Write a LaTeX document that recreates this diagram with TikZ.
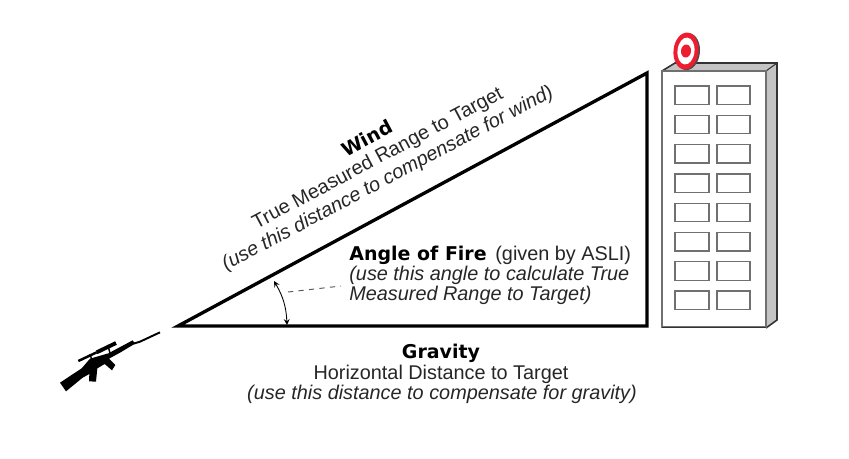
\documentclass[tikz,border=0pt]{standalone}
\usepackage{fontspec}
\setmainfont{Liberation Sans}
\newfontfamily\headfont{DejaVu Sans}
\usetikzlibrary{positioning}
\usepackage{xcolor}
\definecolor{targetred}{RGB}{237,28,46}
\definecolor{sidegray}{RGB}{196,196,196}
\definecolor{wallgray}{RGB}{112,112,112}
\tikzset{
  labeltext/.style={font=\fontsize{11.3pt}{13pt}\selectfont, align=center, inner sep=0pt, text=black!85},
  headtext/.style={font=\headfont\fontsize{10.8pt}{13pt}\selectfont\bfseries, inner sep=0pt},
  windowbox/.style={draw=wallgray, line width=0.7pt, fill=white},
  wallline/.style={draw=wallgray, line width=1.6pt, line join=miter}
}
\begin{document}
\begin{tikzpicture}[x=0.02cm, y=-0.02cm]
\useasboundingbox (0,0) rectangle (849,458);

%triangle
\coordinate (apex) at (178,326);
\coordinate (topright) at (647,73);
\coordinate (botright) at (647,326);
\draw[black, line width=1.9pt, line join=miter] (apex)--(topright)--(botright)--cycle;

%angle marks
\coordinate (arcup) at (274,281);
\coordinate (arcdown) at (287,325);
\coordinate (leadstart) at (288,292);
\coordinate (leadend) at (341,286);
\draw[<->, >=stealth, line width=0.5pt] (arcup) to[bend left=14] (arcdown);
\draw[dashed, black!65, line width=0.55pt] (leadstart)--(leadend);

%building
\fill[sidegray] (662,71)--(675,63)--(777,63)--(766,71)--cycle;
\fill[sidegray] (766,71)--(777,63)--(777,320)--(766,328)--cycle;
\draw[black!80, line width=0.9pt] (662,71)--(675,63)--(777,63)--(777,320)--(766,328);
\draw[black!80, line width=0.6pt] (777,63)--(766,71);
\draw[wallline, fill=white] (662,71) rectangle (766,327);
\draw[black!80, line width=0.8pt] (662,327.5)--(766,327.5);

%windows
\foreach \r in {0,...,7} {
  \draw[windowbox] (675,86+29.3*\r) rectangle (709,104.5+29.3*\r);
  \draw[windowbox] (717,86+29.3*\r) rectangle (750,104.5+29.3*\r);
}

%target
\fill[black!70, rotate around={-6:(686,51)}] (687.5,51.5) ellipse (12.5 and 18.5);
\fill[targetred, rotate around={-6:(686,51)}] (686,51) ellipse (12.5 and 18.5);
\fill[white, rotate around={-6:(686,51)}] (686,51) ellipse (8.5 and 13.5);
\fill[targetred, rotate around={-6:(686,51)}] (686,51) ellipse (5 and 6.5);

%rifle
\begin{scope}[shift={(40,300)}, x=0.00667cm, y=-0.00667cm]
\fill[black] (60,248)--(78,274)--(128,233)--(148,222)--(147,244)--(168,245)--(172,205)--(194,192)--(216,211)--(226,195)--(207,176)--(240,158)--(285,131)--(278,121)--(205,160)--(150,176)--(125,205)--cycle;
\draw[black, line width=1.1pt] (300,125)--(360,97);
\draw[black, line width=1.1pt] (280,131)--(300,125);
\draw[black, line width=1.4pt] (115,183)--(170,157);
\draw[black, line width=2.2pt] (170,157)--(228,129);
\draw[black, line width=0.8pt] (150,162)--(155,178);
\draw[black, line width=0.8pt] (205,140)--(210,160);
\end{scope}

%labels along the hypotenuse
\node[headtext, rotate=28] (windlabel) at (367,138) {Wind};
\node[labeltext, rotate=28] (rangelabel) at (378,159) {True Measured Range to Target};
\node[labeltext, rotate=28] (uselabel) at (388,179) {\itshape (use this distance to compensate for wind)};

%labels of the angle
\node[headtext, anchor=base west] (anglelabel) at (349,260) {Angle of Fire};
\node[labeltext, anchor=base west] (anglegiven) at (495,260) {(given by ASLI)};
\node[labeltext, anchor=base west, align=left] (angleuse) at (349,280) {\itshape (use this angle to calculate True};
\node[labeltext, anchor=base west, align=left] (anglemeas) at (349,300.5) {\itshape Measured Range to Target)};

%labels under the base
\node[headtext, anchor=base] (gravlabel) at (441,358) {Gravity};
\node[labeltext, anchor=base] (horizlabel) at (441,379) {Horizontal Distance to Target};
\node[labeltext, anchor=base] (gravuse) at (442,399) {\itshape (use this distance to compensate for gravity)};

\end{tikzpicture}
\end{document}
